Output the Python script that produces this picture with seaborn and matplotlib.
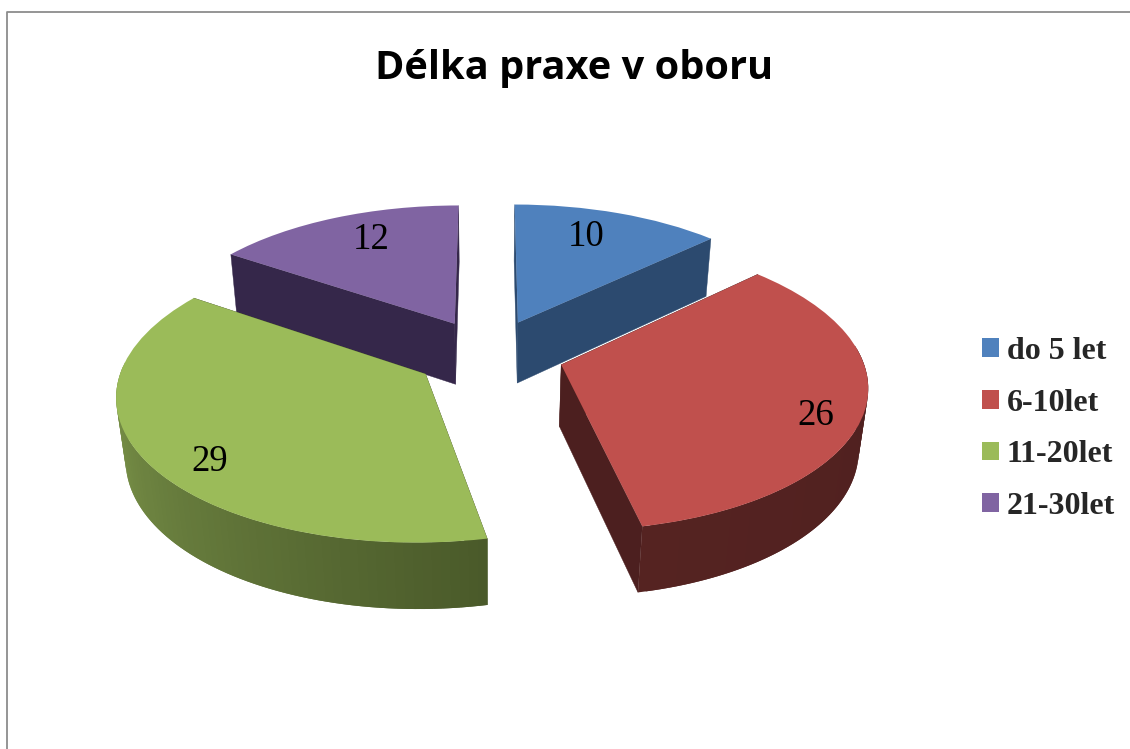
import numpy as np
import seaborn as sns
import matplotlib
matplotlib.use("Agg")
import matplotlib.pyplot as plt
from matplotlib.colors import to_rgb
from matplotlib.path import Path
from matplotlib.transforms import Affine2D, Transform

title = "Délka praxe v oboru"
categories = ["do 5 let", "6-10let", "11-20let", "21-30let"]
values = [10, 26, 29, 12]

top_colors = ["#4f81bd", "#c0504d", "#9bbb59", "#8064a2"]
face_colors = ["#2c4a6f", "#4c1f1f", "#4a5a2a", "#35274a"]
rim_start = ["#2c4a6f", "#552321", "#8da955", "#35274a"]
rim_end = ["#2c4a6f", "#4c1f1f", "#4a5a2a", "#35274a"]
draw_order = [3, 0, 2, 1]
label_pos = [(586, 237), (816, 416), (210, 462), (371, 240)]

W, H = 1130, 749
CX, CY = 489, 354
RX, RY = 300, 141
DEPTH = 63
PERSP = 0.13
SHRINK = 0.025

# image pixels (y down) to display
pixels = Affine2D().scale(1, -1).translate(0, H)


def project(x, y, z=0.0):
    s = 1 / (1 + PERSP * y + SHRINK * z)
    return CX + RX * x * s, CY - RY * y * s + DEPTH * z * s


class TiltTransform(Transform):
    input_dims = 2
    output_dims = 2

    def transform_non_affine(self, pts):
        pts = np.asarray(pts)
        px, py = project(pts[:, 0], pts[:, 1])
        return np.column_stack([px, py])

    def transform_path_non_affine(self, path):
        return Path(self.transform_non_affine(path.vertices), path.codes)


def wall(ax, points, color, zorder, lw=0.3):
    top = [project(x, y) for x, y in points]
    bottom = [project(x, y, 1.0) for x, y in points[::-1]]
    xs, ys = zip(*(top + bottom))
    ax.fill(xs, ys, facecolor=color, edgecolor=color, lw=lw, zorder=zorder, transform=pixels)


def main():
    sns.set_theme(style="white")
    plt.rcParams["font.family"] = ["Liberation Serif"]
    palette = sns.color_palette(top_colors)

    fig = plt.figure(figsize=(W / 100, H / 100), dpi=100, facecolor="white")
    ax = fig.add_axes([0, 0, 1, 1])

    wedges, _ = ax.pie(values, explode=[0.25] * len(values), startangle=90,
                       counterclock=False, colors=palette, wedgeprops={"linewidth": 0})
    ax.set_xlim(0, W)
    ax.set_ylim(H, 0)
    ax.set_aspect("auto")
    ax.axis("off")

    tilt = TiltTransform() + pixels
    for rank, i in enumerate(draw_order):
        w = wedges[i]
        cx, cy = w.center
        base = rank * 10 + 2
        a = np.deg2rad(np.linspace(w.theta1, w.theta2, 90))
        xs = cx + np.cos(a) * w.r
        ys = cy + np.sin(a) * w.r

        # the two cut faces, then the rim
        wall(ax, [(cx, cy), (xs[0], ys[0])], face_colors[i], base)
        wall(ax, [(cx, cy), (xs[-1], ys[-1])], face_colors[i], base)
        c0 = np.array(to_rgb(rim_start[i]))
        c1 = np.array(to_rgb(rim_end[i]))
        for k in range(len(a) - 1):
            if np.sin(a[k]) > 0.1:
                continue
            t = k / (len(a) - 2)
            # each strip runs under the next one so no seams show
            j = min(k + 2, len(a) - 1)
            wall(ax, [(xs[k], ys[k]), (xs[j], ys[j])], tuple(c0 + (c1 - c0) * t), base + 1, lw=0)

        w.set_transform(tilt)
        w.set_zorder(base + 2)

    for v, (x, y) in zip(values, label_pos):
        ax.text(x, y, str(v), transform=pixels, ha="center", va="center",
                fontsize=26.5, color="black", zorder=100)

    ax.text(574, 69, title, transform=pixels, ha="center", va="center", color="black",
            fontsize=28.6, fontweight="bold", family="Open Sans", zorder=100)

    # chart frame, cut off by the right and bottom image edges
    ax.plot([7, 7, W], [H, 12, 12], color="#8c8c8c", lw=1.3, transform=pixels, zorder=1)

    ax.legend(wedges, categories, loc="upper left", bbox_to_anchor=(982, 337),
              bbox_transform=pixels, frameon=False, prop={"weight": "bold", "size": 23},
              handlelength=0.52, handleheight=0.52, handletextpad=0.26,
              labelspacing=0.71, borderpad=0, borderaxespad=0)

    fig.savefig("out.png", dpi=100)


if __name__ == "__main__":
    main()
